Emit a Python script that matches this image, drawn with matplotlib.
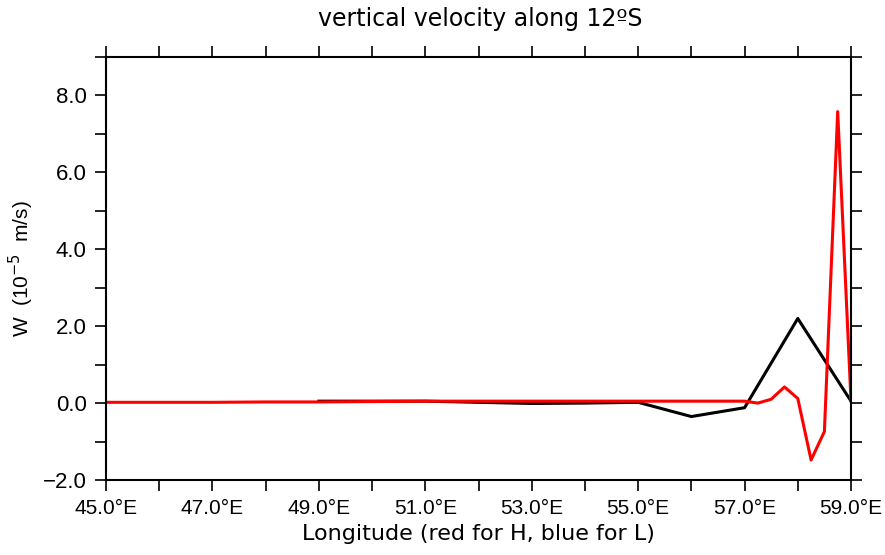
import matplotlib
matplotlib.use("Agg")
import matplotlib.pyplot as plt
from matplotlib.ticker import MultipleLocator, FixedLocator

plt.rcParams['font.family'] = ['Liberation Sans', 'DejaVu Sans']

# red curve (H): fine resolution near the coast
lon_h = [45.0, 46.0, 47.0, 48.0, 49.0, 50.0, 51.0, 52.0, 53.0, 54.0, 55.0, 56.0,
         57.0, 57.25, 57.5, 57.75, 58.0, 58.25, 58.5, 58.75, 59.0]
w_h = [0.02, 0.02, 0.02, 0.03, 0.03, 0.04, 0.05, 0.05, 0.05, 0.05, 0.05, 0.05,
       0.05, 0.0, 0.1, 0.42, 0.12, -1.48, -0.74, 7.58, 0.05]

# black curve: coarse resolution
lon_c = [49.0, 50.0, 51.0, 52.0, 53.0, 54.0, 55.0, 56.0, 57.0, 58.0, 59.0]
w_c = [0.05, 0.05, 0.05, 0.02, -0.01, 0.0, 0.02, -0.35, -0.12, 2.2, 0.05]

xticks = [45, 47, 49, 51, 53, 55, 57, 59]
xticklabels = ['45.0\u00b0E', '47.0\u00b0E', '49.0\u00b0E', '51.0\u00b0E',
               '53.0\u00b0E', '55.0\u00b0E', '57.0\u00b0E', '59.0\u00b0E']
yticks = [-2, 0, 2, 4, 6, 8]
yticklabels = ['\u22122.0', '0.0', '2.0', '4.0', '6.0', '8.0']

fig = plt.figure(figsize=(8.85, 5.55), dpi=100)
ax = fig.add_axes([106 / 885, 1 - 480 / 555, 745 / 885, 423 / 555])

ax.plot(lon_c, w_c, color='black', lw=2.2)
ax.plot(lon_h, w_h, color='#ff0000', lw=2.2)

ax.set_xlim(45, 59)
ax.set_ylim(-2, 9)

ax.xaxis.set_major_locator(FixedLocator(xticks))
ax.set_xticklabels(xticklabels)
ax.xaxis.set_minor_locator(MultipleLocator(1))
ax.yaxis.set_major_locator(FixedLocator(yticks))
ax.set_yticklabels(yticklabels)
ax.yaxis.set_minor_locator(MultipleLocator(1))

ax.tick_params(which='both', direction='out', length=8, width=1.2,
               top=True, right=True, labelsize=15)
ax.tick_params(axis='x', pad=6)
ax.tick_params(axis='y', pad=6, labelsize=16)
for s in ax.spines.values():
    s.set_linewidth(1.5)

ax.set_ylabel('W  (10$^{-5}$  m/s)', fontsize=15, labelpad=5)
ax.set_xlabel('Longitude (red for H, blue for L)', family='DejaVu Sans', fontsize=16, labelpad=4)
fig.text(480 / 885, 1 - 19 / 555, 'vertical velocity along 12\u00baS', family='DejaVu Sans',
         fontsize=17, ha='center', va='center')

fig.savefig('out.png', dpi=100)
